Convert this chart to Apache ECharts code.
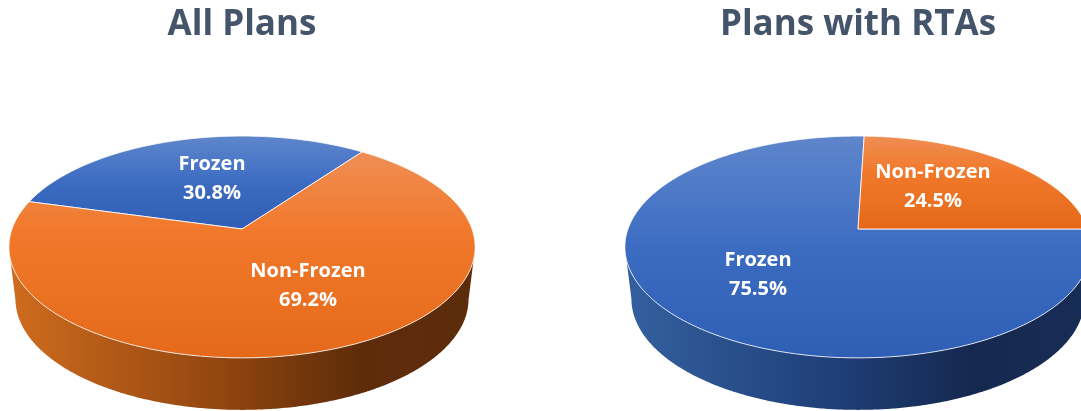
<!DOCTYPE html>
<html>
<head>
<meta charset="utf-8">
<style>html,body{margin:0;padding:0;background:#fff;overflow:hidden}#c{width:1081px;height:411px}</style>
<script src="https://cdn.jsdelivr.net/npm/echarts@6/dist/echarts.min.js"></script>
</head>
<body>
<div id="c"></div>
<script>
const categories = ['Frozen', 'Non-Frozen'];
const allPlansShares = [30.8, 69.2];
const rtaPlansShares = [75.5, 24.5];
const chartTitles = ['All Plans', 'Plans with RTAs'];

// layout only
const allPlansLayout = { cx: 242, startAngle: -74.7, labels: [[212, 178.5], [308, 285.5]] };
const rtaPlansLayout = { cx: 858, startAngle: 90, labels: [[758, 274.5], [933, 186.5]] };
const cy = 229, A = 230, B = 108, K = 0.162, DEPTH = 52, BOTTOM_SCALE = 0.972;
const rimY = cy + B * K / (1 - K * K);

function stops(list) { return list.map(s => ({ offset: s[0], color: s[1] })); }
const topGradients = [
  stops([[0, '#5f86cc'], [0.5, '#3c6cc2'], [1, '#2e5fb4']]),
  stops([[0, '#ef8e55'], [0.4, '#f1782a'], [1, '#e4691b']])
];
const wallGradients = [
  stops([[0, '#34609f'], [0.45, '#1f3f78'], [0.75, '#15284f'], [1, '#182d56']]),
  stops([[0, '#cf6c1e'], [0.45, '#934610'], [0.75, '#5f2c0a'], [1, '#5c2d0b']])
];

function project(cx, deg) {
  const t = deg * Math.PI / 180, u = Math.sin(t), v = -Math.cos(t), d = 1 - K * v;
  return [cx + A * u / d, cy + B * v / d];
}

function pieRenderer(shares, layout) {
  return function (params, api) {
    const i = params.dataIndex;
    const value = api.value(1);
    let start = layout.startAngle;
    for (let j = 0; j < i; j++) start += shares[j] * 3.6;
    const end = start + value * 3.6;
    const arc = [];
    for (let a = start; a < end; a += 0.5) arc.push(project(layout.cx, a));
    arc.push(project(layout.cx, end));

    const children = [];
    const front = arc.filter(p => p[1] >= rimY);
    if (front.length > 1) {
      const lower = front.map(p => [
        layout.cx + (p[0] - layout.cx) * BOTTOM_SCALE,
        p[1] + DEPTH
      ]).reverse();
      children.push({
        type: 'polygon',
        shape: { points: front.concat(lower) },
        style: {
          fill: new echarts.graphic.LinearGradient(layout.cx - 233, 0, layout.cx + 233, 0, wallGradients[i], true)
        }
      });
    }
    children.push({
      type: 'polygon',
      shape: { points: [[layout.cx, cy]].concat(arc) },
      style: {
        fill: new echarts.graphic.LinearGradient(0, 0, 0, 1, topGradients[i]),
        stroke: 'rgba(255,255,255,0.8)',
        lineWidth: 1,
        lineJoin: 'round'
      }
    });
    return { type: 'group', children: children };
  };
}

function labelRenderer(shares, layout) {
  return function (params) {
    const i = params.dataIndex;
    const p = layout.labels[i];
    return {
      type: 'text',
      z2: 10,
      style: {
        text: categories[i] + '\n' + shares[i].toFixed(1) + '%',
        x: p[0], y: p[1],
        fill: '#ffffff',
        font: '700 20px "Open Sans"',
        lineHeight: 29,
        align: 'center',
        verticalAlign: 'middle'
      }
    };
  };
}

function rows(shares) { return shares.map((s, i) => [i, s]); }

const chart = echarts.init(document.getElementById('c'), null, { renderer: 'canvas' });
chart.setOption({
  animation: false,
  backgroundColor: '#ffffff',
  title: [allPlansLayout, rtaPlansLayout].map((l, i) => ({
    text: chartTitles[i],
    left: l.cx - 5,
    top: 3,
    textAlign: 'center',
    textStyle: { color: '#44546a', fontFamily: 'Open Sans', fontWeight: 700, fontSize: 35 }
  })),
  series: [
    { type: 'custom', name: chartTitles[0], coordinateSystem: 'none', silent: true, z: 2, data: rows(allPlansShares), renderItem: pieRenderer(allPlansShares, allPlansLayout) },
    { type: 'custom', name: chartTitles[1], coordinateSystem: 'none', silent: true, z: 2, data: rows(rtaPlansShares), renderItem: pieRenderer(rtaPlansShares, rtaPlansLayout) },
    { type: 'custom', name: chartTitles[0] + ' labels', coordinateSystem: 'none', silent: true, z: 3, data: rows(allPlansShares), renderItem: labelRenderer(allPlansShares, allPlansLayout) },
    { type: 'custom', name: chartTitles[1] + ' labels', coordinateSystem: 'none', silent: true, z: 3, data: rows(rtaPlansShares), renderItem: labelRenderer(rtaPlansShares, rtaPlansLayout) }
  ]
});
</script>
</body>
</html>
